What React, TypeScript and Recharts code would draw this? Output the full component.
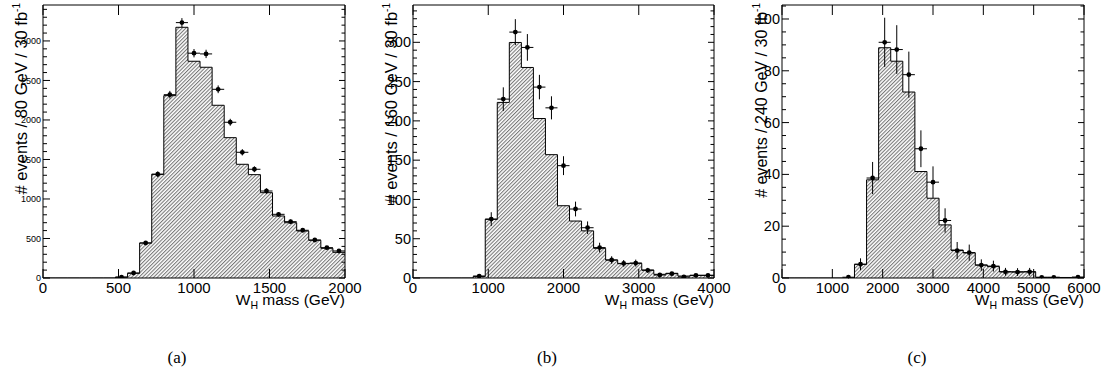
import React from 'react';
import { ComposedChart, Area, Scatter, XAxis, YAxis, ErrorBar } from 'recharts';

// ---------- Panel (a): 80 GeV bins ----------
const binLowA = [0, 80, 160, 240, 320, 400, 480, 560, 640, 720, 800, 880, 960, 1040, 1120, 1200, 1280, 1360, 1440, 1520, 1600, 1680, 1760, 1840, 1920];
const histA = [0, 0, 0, 0, 0, 0, 12, 60, 443, 1313, 2308, 3173, 2743, 2667, 2186, 1776, 1439, 1308, 1080, 785, 700, 595, 477, 376, 325];
const pointsA = [null, null, null, null, null, null, 10, 63, 443, 1313, 2320, 3232, 2845, 2836, 2388, 1971, 1591, 1376, 1101, 806, 713, 604, 481, 384, 342];
const errA = [0, 0, 0, 0, 0, 0, 3, 8, 21, 36, 48, 57, 53, 53, 49, 44, 40, 37, 33, 28, 27, 25, 22, 20, 18];
const xTicksA = [0, 500, 1000, 1500, 2000];
const yTicksA = [0, 500, 1000, 1500, 2000, 2500, 3000];

// ---------- Panel (b): 160 GeV bins ----------
const binLowB = [0, 160, 320, 480, 640, 800, 960, 1120, 1280, 1440, 1600, 1760, 1920, 2080, 2240, 2400, 2560, 2720, 2880, 3040, 3200, 3360, 3520, 3680, 3840];
const histB = [0, 0, 0, 0, 0, 2, 74.7, 223.5, 299.8, 268, 203, 157, 92, 72.5, 60, 37.8, 22.9, 18.2, 18.7, 10.2, 4.7, 6, 2.5, 3.4, 3.4];
const pointsB = [null, null, null, null, null, 2.5, 75, 227.7, 313, 293.5, 243, 216.6, 143, 87.8, 64, 38.7, 22.9, 18.6, 19, 9.8, 3.8, 5.5, 1.3, 3.4, 3.4];
const errB = [0, 0, 0, 0, 0, 1.6, 8.7, 15, 16.5, 17, 15.6, 14.7, 12, 9.4, 8, 6.2, 4.8, 4.3, 4.4, 3.1, 2, 2.3, 1.1, 1.8, 1.8];
const xTicksB = [0, 1000, 2000, 3000, 4000];
const yTicksB = [0, 50, 100, 150, 200, 250, 300];

// ---------- Panel (c): 240 GeV bins ----------
const binLowC = [0, 240, 480, 720, 960, 1200, 1440, 1680, 1920, 2160, 2400, 2640, 2880, 3120, 3360, 3600, 3840, 4080, 4320, 4560, 4800, 5040, 5280, 5520, 5760];
const histC = [0, 0, 0, 0, 0, 0, 5.3, 37.9, 88.9, 83.7, 71.8, 41.1, 30.8, 20.5, 10.8, 9.7, 5.0, 4.4, 2.4, 2.4, 2.4, 0.3, 0.3, 0.2, 0.3];
const pointsC = [null, null, null, null, null, 0.3, 5.3, 38.6, 91, 88.2, 78.5, 49.9, 37, 22.2, 10.6, 9.8, 5.0, 4.6, 2.4, 2.3, 2.4, 0.2, 0.2, null, 0.3];
const errC = [0, 0, 0, 0, 0, 0.5, 2.3, 6.2, 9.5, 9.4, 8.9, 7.1, 6.1, 4.7, 3.3, 3.1, 2.2, 2.1, 1.5, 1.5, 1.5, 0.4, 0.4, 0, 0.5];
const xTicksC = [0, 1000, 2000, 3000, 4000, 5000, 6000];
const yTicksC = [0, 20, 40, 60, 80, 100];

const SANS = '"Liberation Sans", Arial, Helvetica, sans-serif';
const SERIF = '"Liberation Serif", "Times New Roman", serif';

type Side = 'bottom' | 'top' | 'left' | 'right';

function makeTick(side: Side, majors: number[], showLabel: boolean, fontSize: number, majorLen: number, minorLen: number) {
  return (props: any) => {
    const { x, y, payload } = props;
    const v = payload.value as number;
    const isMajor = majors.some((m) => Math.abs(m - v) < 1e-6);
    const len = isMajor ? majorLen : minorLen;
    let x2 = x;
    let y2 = y;
    let label: React.ReactNode = null;
    if (side === 'bottom') {
      y2 = y - len;
      if (showLabel && isMajor)
        label = (
          <text x={x} y={y + 14.5} textAnchor="middle" fontSize={fontSize} fontFamily={SANS} fill="#000">
            {String(v)}
          </text>
        );
    } else if (side === 'top') {
      y2 = y + len;
    } else if (side === 'left') {
      x2 = x + len;
      if (showLabel && isMajor)
        label = (
          <text x={x - 2} y={y} dy="0.35em" textAnchor="end" fontSize={fontSize} fontFamily={SANS} fill="#000">
            {String(v)}
          </text>
        );
    } else {
      x2 = x - len;
    }
    return (
      <g>
        <line x1={x} y1={y} x2={x2} y2={y2} stroke="#000" strokeWidth={1} />
        {label}
      </g>
    );
  };
}

type PanelCfg = {
  left: number;
  plotLeft: number;
  plotRight: number;
  binLow: number[];
  hist: number[];
  points: (number | null)[];
  err: number[];
  binWidth: number;
  xMax: number;
  yMax: number;
  xTicks: number[];
  yTicks: number[];
  yMinorStep: number;
  yFont: number;
};

const PLOT_TOP = 5;
const PLOT_BOTTOM = 278;
const CH_W = 370;
const CH_H = 376;
const AX = 1; // thickness reserved by each axis

function Panel({ cfg }: { cfg: PanelCfg }) {
  const histTable = cfg.binLow.map((x, i) => ({ x, y: cfg.hist[i] }));
  histTable.push({ x: cfg.xMax, y: cfg.hist[cfg.hist.length - 1] });
  const ptTable = cfg.binLow
    .map((x, i) =>
      cfg.points[i] == null ? null : { x: x + cfg.binWidth / 2, y: cfg.points[i] as number, ey: cfg.err[i], ex: cfg.binWidth / 2 }
    )
    .filter((p) => p !== null) as { x: number; y: number; ey: number; ex: number }[];

  const yAll: number[] = [];
  for (let v = 0; v <= cfg.yMax + 1e-9; v += cfg.yMinorStep) yAll.push(Math.round(v * 1000) / 1000);

  const margin = {
    top: PLOT_TOP - AX,
    bottom: CH_H - PLOT_BOTTOM - AX,
    left: cfg.plotLeft - cfg.left - AX,
    right: CH_W - (cfg.plotRight - cfg.left) - AX,
  };
  const axisLine = { stroke: '#000', strokeWidth: 1 };

  return (
    <div style={{ position: 'absolute', left: cfg.left, top: 0 }}>
      <ComposedChart width={CH_W} height={CH_H} margin={margin}>
        <XAxis
          xAxisId="b"
          dataKey="x"
          type="number"
          domain={[0, cfg.xMax]}
          allowDataOverflow
          ticks={cfg.xTicks}
          interval={0}
          height={AX}
          tickSize={0}
          tickMargin={0}
          tickLine={false}
          axisLine={axisLine}
          tick={makeTick('bottom', cfg.xTicks, true, 15, 9, 5)}
        />
        <XAxis
          xAxisId="t"
          orientation="top"
          dataKey="x"
          type="number"
          domain={[0, cfg.xMax]}
          allowDataOverflow
          ticks={cfg.xTicks}
          interval={0}
          height={AX}
          tickSize={0}
          tickMargin={0}
          tickLine={false}
          axisLine={axisLine}
          tick={makeTick('top', cfg.xTicks, false, 15, 10, 5)}
        />
        <YAxis
          yAxisId="l"
          dataKey="y"
          type="number"
          domain={[0, cfg.yMax]}
          allowDataOverflow
          ticks={yAll}
          interval={0}
          width={AX}
          tickSize={0}
          tickMargin={0}
          tickLine={false}
          axisLine={axisLine}
          tick={makeTick('left', cfg.yTicks, true, cfg.yFont, 7, 4)}
        />
        <YAxis
          yAxisId="r"
          orientation="right"
          dataKey="y"
          type="number"
          domain={[0, cfg.yMax]}
          allowDataOverflow
          ticks={yAll}
          interval={0}
          width={AX}
          tickSize={0}
          tickMargin={0}
          tickLine={false}
          axisLine={axisLine}
          tick={makeTick('right', cfg.yTicks, false, cfg.yFont, 6, 3.5)}
        />
        <Area
          xAxisId="b"
          yAxisId="l"
          data={histTable}
          dataKey="y"
          type="stepAfter"
          stroke="#000"
          strokeWidth={1}
          fill="url(#hatch)"
          fillOpacity={1}
          dot={false}
          activeDot={false}
          isAnimationActive={false}
        />
        <Scatter
          xAxisId="b"
          yAxisId="l"
          data={ptTable}
          dataKey="y"
          isAnimationActive={false}
          shape={(p: any) => <circle cx={p.cx} cy={p.cy} r={2.4} fill="#000" />}
        >
          <ErrorBar dataKey="ey" direction="y" width={0} stroke="#000" strokeWidth={1} isAnimationActive={false} />
          <ErrorBar dataKey="ex" direction="x" width={0} stroke="#000" strokeWidth={1} isAnimationActive={false} />
        </Scatter>
      </ComposedChart>
    </div>
  );
}

const panels: PanelCfg[] = [
  {
    left: 0, plotLeft: 43, plotRight: 345,
    binLow: binLowA, hist: histA, points: pointsA, err: errA, binWidth: 80,
    xMax: 2000, yMax: 3455, xTicks: xTicksA, yTicks: yTicksA, yMinorStep: 100, yFont: 9,
  },
  {
    left: 370, plotLeft: 413, plotRight: 714,
    binLow: binLowB, hist: histB, points: pointsB, err: errB, binWidth: 160,
    xMax: 4000, yMax: 347.5, xTicks: xTicksB, yTicks: yTicksB, yMinorStep: 10, yFont: 14.5,
  },
  {
    left: 740, plotLeft: 782, plotRight: 1084,
    binLow: binLowC, hist: histC, points: pointsC, err: errC, binWidth: 240,
    xMax: 6000, yMax: 105.4, xTicks: xTicksC, yTicks: yTicksC, yMinorStep: 5, yFont: 14.5,
  },
];

const yTitles = ['# events / 80 GeV / 30 fb', '# events / 160 GeV / 30 fb', '# events / 240 GeV / 30 fb'];
const captions = ['(a)', '(b)', '(c)'];

function YTitle({ x, text, size }: { x: number; text: string; size: number }) {
  return (
    <text transform={`translate(${x},3) rotate(-90)`} textAnchor="end" fontSize={size} fontFamily={SANS} fill="#000">
      <tspan>{text}</tspan>
      <tspan fontSize={10} dy={-7}>-1</tspan>
    </text>
  );
}

function XTitle({ x }: { x: number }) {
  return (
    <text x={x} y={305} textAnchor="end" fontSize={15.5} fontFamily={SANS} fill="#000">
      <tspan>W</tspan>
      <tspan fontSize={10.5} dy={4}>H</tspan>
      <tspan dy={-4}> mass (GeV)</tspan>
    </text>
  );
}

export default function App() {
  return (
    <div style={{ position: 'absolute', left: 0, top: 0, width: 1110, height: 376, background: '#fff', overflow: 'hidden' }}>
      <svg width={0} height={0} style={{ position: 'absolute' }}>
        <defs>
          <pattern id="hatch" patternUnits="userSpaceOnUse" width={2.6} height={2.6} patternTransform="rotate(45)">
            <line x1={0.6} y1={0} x2={0.6} y2={2.6} stroke="#3a3a3a" strokeWidth={0.75} />
          </pattern>
        </defs>
      </svg>
      {panels.map((cfg, i) => (
        <Panel key={i} cfg={cfg} />
      ))}
      <svg width={1110} height={376} style={{ position: 'absolute', left: 0, top: 0, pointerEvents: 'none' }}>
        <YTitle x={26.5} text={yTitles[0]} size={16.5} />
        <YTitle x={397} text={yTitles[1]} size={16.5} />
        <YTitle x={767} text={yTitles[2]} size={16} />
        <XTitle x={345} />
        <XTitle x={714} />
        <XTitle x={1084} />
        {captions.map((c, i) => (
          <text key={c} x={[177, 547, 917][i]} y={363} textAnchor="middle" fontSize={17} fontFamily={SERIF} fill="#000">
            {c}
          </text>
        ))}
      </svg>
    </div>
  );
}
